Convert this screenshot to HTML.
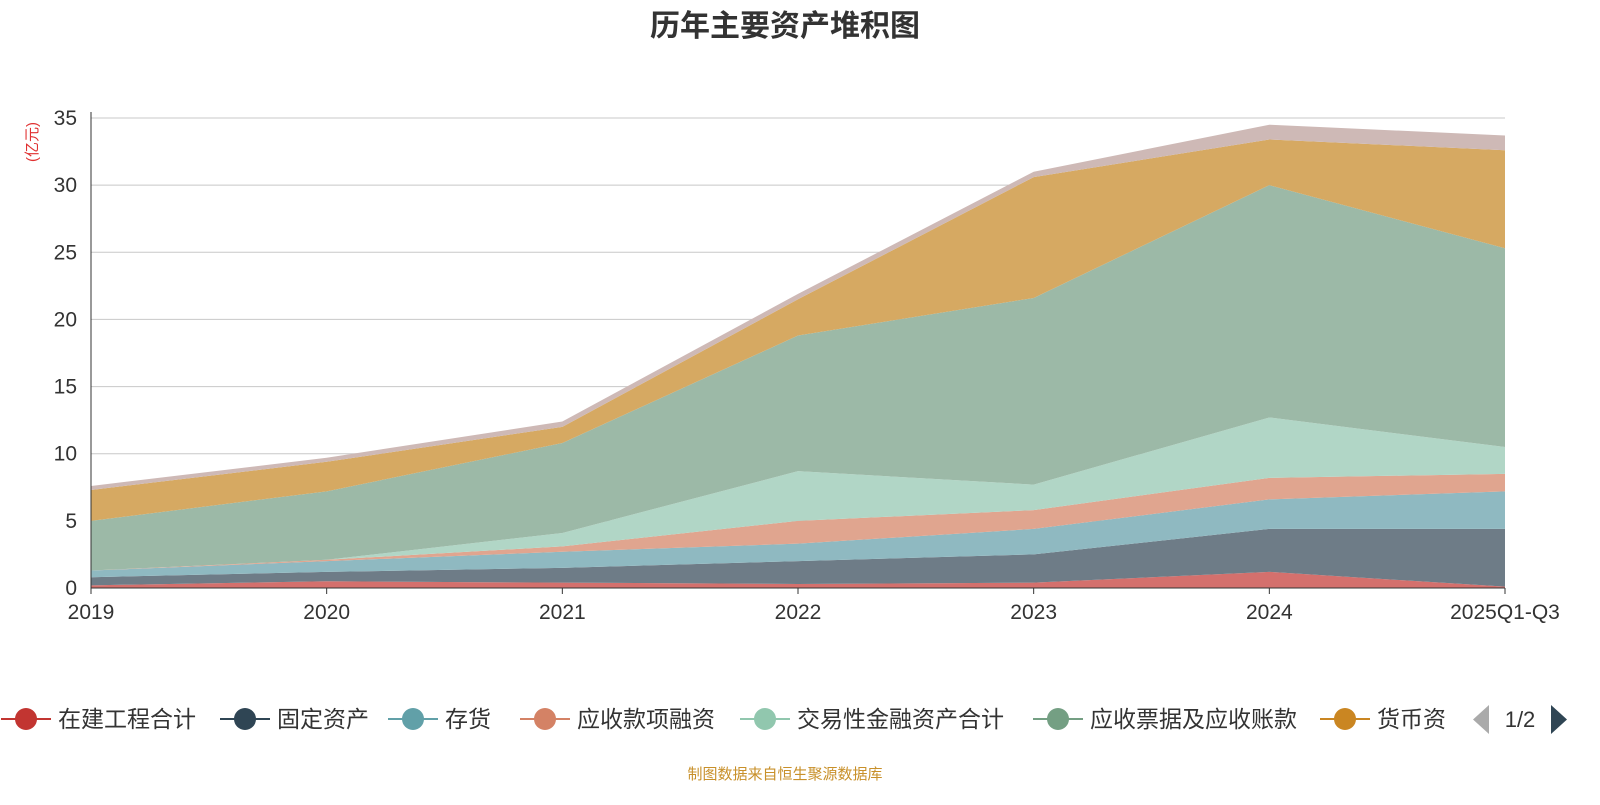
<!DOCTYPE html>
<html><head><meta charset="utf-8">
<style>
body{margin:0;background:#fff;font-family:"Liberation Sans","Noto Sans CJK SC",sans-serif;}
svg text{font-family:"Liberation Sans","Noto Sans CJK SC",sans-serif;}
</style></head>
<body>
<svg id="chart" width="1600" height="800">
<text x="785" y="36" text-anchor="middle" font-size="30" font-weight="bold" fill="#333">历年主要资产堆积图</text>
<text transform="translate(37,142) rotate(-90)" text-anchor="middle" font-size="15" fill="#e03030">(亿元)</text>
<g id="grid"></g><g id="areas"></g><g id="axes"></g><g id="legend"></g>
<text x="785" y="779" text-anchor="middle" font-size="15" fill="#c8902a">制图数据来自恒生聚源数据库</text>
</svg>
<script>
const categories=["2019","2020","2021","2022","2023","2024","2025Q1-Q3"];
const seriesNames=["在建工程合计","固定资产","存货","应收款项融资","交易性金融资产合计","应收票据及应收账款","货币资","其他"];
const s0=[0.2,0.5,0.4,0.3,0.4,1.2,0.1];
const s1=[0.6,0.7,1.1,1.7,2.1,3.2,4.3];
const s2=[0.5,0.8,1.2,1.3,1.9,2.2,2.8];
const s3=[0.0,0.1,0.4,1.7,1.4,1.6,1.3];
const s4=[0.0,0.0,1.0,3.7,1.9,4.5,2.0];
const s5=[3.7,5.1,6.7,10.1,13.9,17.3,14.8];
const s6=[2.3,2.2,1.2,2.7,9.0,3.4,7.3];
const s7=[0.3,0.3,0.4,0.4,0.4,1.1,1.1];
const yTicks=[0,5,10,15,20,25,30,35];
const fills=["#d4706d","#6e7c87","#8fb9c1","#e0a58f","#b1d6c6","#9cb9a7","#d6a962","#ceb9b6"];
const markers=["#c23531","#2f4554","#61a0a8","#d48265","#91c7ae","#749f83","#ca8622"];
const series=[s0,s1,s2,s3,s4,s5,s6,s7];
const NS="http://www.w3.org/2000/svg";
const x0=91,x1=1505,y0=588,yTop=118,yMax=35;
const xs=i=>x0+(x1-x0)*i/(categories.length-1);
const ys=v=>y0-(y0-yTop)*v/yMax;
function mk(t,a,p){const e=document.createElementNS(NS,t);for(const k in a)e.setAttribute(k,a[k]);p.appendChild(e);return e;}
const grid=document.getElementById('grid'),axes=document.getElementById('axes'),areas=document.getElementById('areas'),legend=document.getElementById('legend');
yTicks.forEach(v=>{
 if(v>0){const l=mk('line',{x1:x0,x2:x1,y1:ys(v),y2:ys(v),stroke:'#c8c8c8'},grid);
 
 }
 const t=mk('text',{x:x0-14,y:ys(v)+7,'text-anchor':'end','font-size':21,fill:'#333'},axes);t.textContent=v;
 
 
});
let cum=categories.map(()=>0);
series.forEach((s,k)=>{
 const lo=cum.slice();cum=cum.map((c,i)=>c+s[i]);
 let d='M'+categories.map((c,i)=>xs(i)+','+ys(cum[i])).join('L');
 for(let i=categories.length-1;i>=0;i--)d+='L'+xs(i)+','+ys(lo[i]);
 const p=mk('path',{d:d+'Z',fill:fills[k]},areas);
 
 
});
mk('line',{x1:x0,x2:x0,y1:yTop-6,y2:y0,stroke:'#333'},axes);
mk('line',{x1:x0,x2:x1,y1:y0,y2:y0,stroke:'#333'},axes);
categories.forEach((c,i)=>{
 mk('line',{x1:xs(i),x2:xs(i),y1:y0,y2:y0+6,stroke:'#333'},axes);
 const t=mk('text',{x:xs(i),y:y0+31,'text-anchor':'middle','font-size':21,fill:'#333'},axes);t.textContent=c;
 
 
});
const cx=[26,245,413,545,765,1058,1345];
markers.forEach((m,k)=>{
 const g=mk('g',{},legend);
 
 
 mk('line',{x1:cx[k]-25,x2:cx[k]+25,y1:719,y2:719,stroke:m,'stroke-width':2},g);
 mk('circle',{cx:cx[k],cy:719,r:11,fill:m},g);
 const t=mk('text',{x:cx[k]+32,y:727,'font-size':23,fill:'#333'},g);t.textContent=seriesNames[k];
});
const pl=mk('path',{d:'M1489,705L1489,734L1473,719.5Z',fill:'#aaa'},legend);


const pt=mk('text',{x:1520,y:727,'text-anchor':'middle','font-size':22,fill:'#333'},legend);pt.textContent='1/2';


const pn=mk('path',{d:'M1551,705L1551,734L1567,719.5Z',fill:'#2f4554'},legend);


</script>
</body></html>
